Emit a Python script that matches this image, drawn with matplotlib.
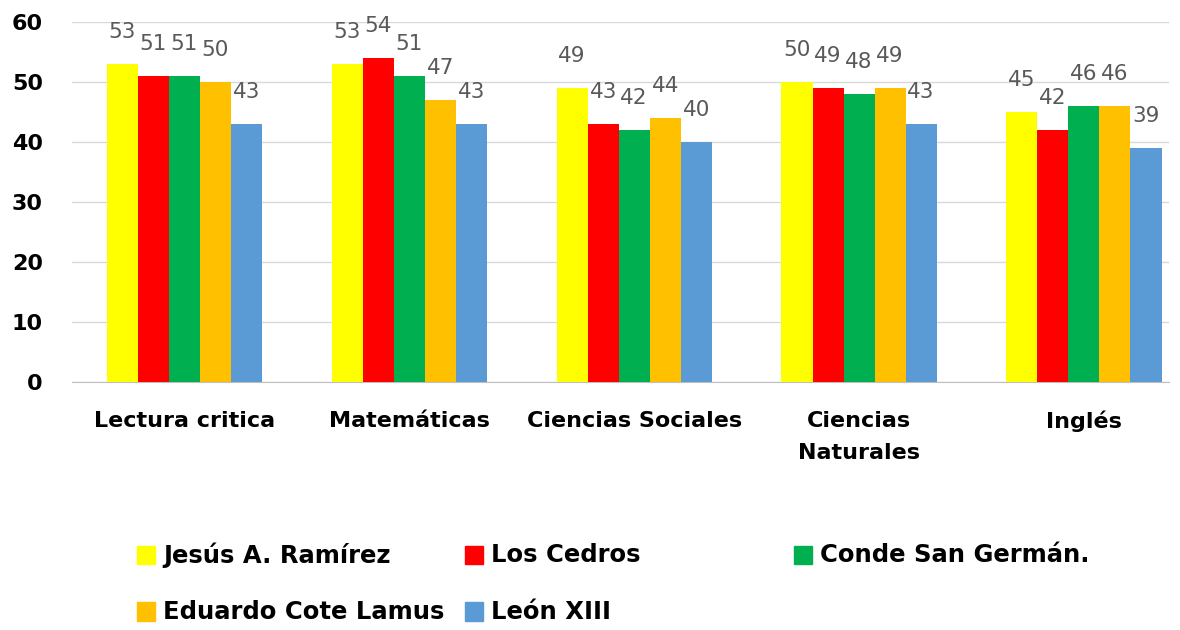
import matplotlib.pyplot as plt
from matplotlib.patches import Rectangle
import numpy as np

categories = ["Lectura critica", "Matemáticas", "Ciencias Sociales", "Ciencias\nNaturales", "Inglés"]
schools = ["Jesús A. Ramírez", "Los Cedros", "Conde San Germán.", "Eduardo Cote Lamus", "León XIII"]
jesus = [53, 53, 49, 50, 45]
cedros = [51, 54, 43, 49, 42]
conde = [51, 51, 42, 48, 46]
eduardo = [50, 47, 44, 49, 46]
leon = [43, 43, 40, 43, 39]
series = [jesus, cedros, conde, eduardo, leon]
colors = ["#FFFF00", "#FF0000", "#00B050", "#FFC000", "#5B9BD5"]

fig = plt.figure(figsize=(11.8, 6.3), dpi=100)
ax = fig.add_axes([0.061, 0.394, 0.93, 0.571])

x = np.arange(len(categories))
width = 0.138
for i, (vals, col) in enumerate(zip(series, colors)):
    pos = x + (i - 2) * width
    ax.bar(pos, vals, width, color=col, zorder=3)
    for px, v in zip(pos, vals):
        ax.annotate(str(v), (px, v), xytext=(0, 23), textcoords="offset points",
                    ha="center", va="center", fontsize=15.5, color="#595959")

ax.set_xlim(-0.5, 4.38)
ax.set_ylim(0, 60)
ax.set_yticks(range(0, 61, 10))
ax.set_xticks(x)
ax.set_xticklabels(categories, fontsize=16, fontweight="bold", linespacing=1.75)
ax.tick_params(axis="both", length=0)
ax.tick_params(axis="x", pad=21)
ax.tick_params(axis="y", pad=21)
for lab in ax.get_yticklabels():
    lab.set_fontweight("bold")
    lab.set_fontsize(16)
ax.grid(axis="y", color="#D9D9D9", linewidth=1, zorder=0)
for s in ["left", "right", "top"]:
    ax.spines[s].set_visible(False)
ax.spines["bottom"].set_color("#BFBFBF")

# legend laid out like the spreadsheet one
leg_x = [0.116, 0.394, 0.673]
leg_y = [0.119, 0.029]
for k, (name, col) in enumerate(zip(schools, colors)):
    cx = leg_x[k % 3]
    cy = leg_y[k // 3]
    fig.add_artist(Rectangle((cx, cy - 0.014), 0.0155, 0.029, color=col, transform=fig.transFigure))
    fig.text(cx + 0.022, cy, name, fontsize=17.5, fontweight="bold", va="center")

plt.savefig("out.png", dpi=100)
